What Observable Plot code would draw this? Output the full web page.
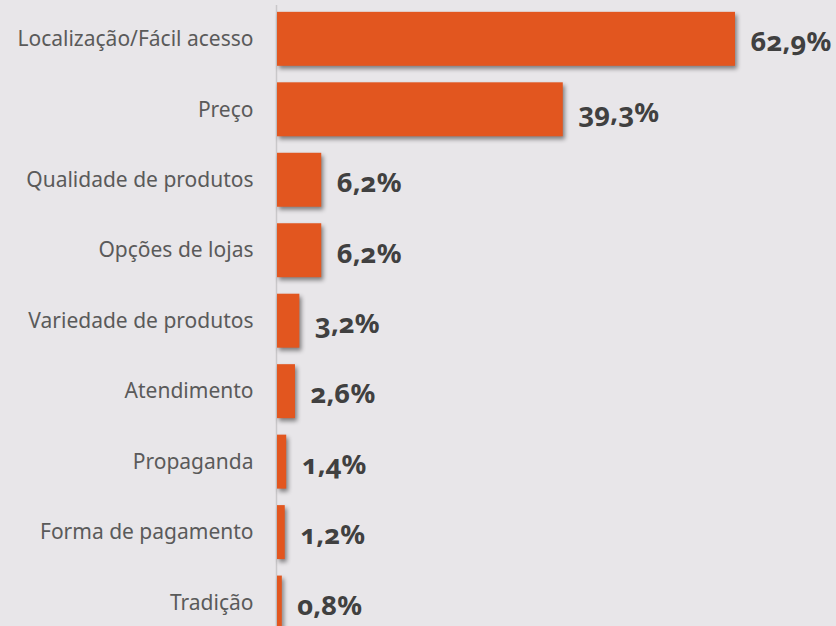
<!DOCTYPE html>
<html>
<head>
<meta charset="utf-8">
<script src="https://cdn.jsdelivr.net/npm/d3@7"></script>
<script src="https://cdn.jsdelivr.net/npm/@observablehq/plot@0.6"></script>
<style>
  html, body { margin: 0; padding: 0; background: #e8e6e9; overflow: hidden; }
  #chart svg { display: block; }
  #chart g[aria-label="bar"] { filter: drop-shadow(2px 3px 2px rgba(0,0,0,0.45)); }
  #chart g[aria-label="text"] { font-feature-settings: "onum" 1; font-variant-numeric: oldstyle-nums; }
</style>
</head>
<body>
<div id="chart"></div>
<script>
const categories = [
  "Localização/Fácil acesso",
  "Preço",
  "Qualidade de produtos",
  "Opções de lojas",
  "Variedade de produtos",
  "Atendimento",
  "Propaganda",
  "Forma de pagamento",
  "Tradição"
];
const values = [62.9, 39.3, 6.2, 6.2, 3.2, 2.6, 1.4, 1.2, 0.8];
const valueLabels = ["62,9%", "39,3%", "6,2%", "6,2%", "3,2%", "2,6%", "1,4%", "1,2%", "0,8%"];

const data = categories.map((c, i) => ({category: c, value: values[i], label: valueLabels[i]}));

const chart = Plot.plot({
  width: 836,
  height: 640,
  marginLeft: 276,
  marginTop: 5,
  marginRight: 0,
  marginBottom: 0,
  style: {background: "#e8e6e9", fontFamily: "'Noto Sans', sans-serif", overflow: "visible"},
  x: {domain: [0, 62.9], range: [276, 735], axis: null},
  y: {domain: categories, range: [3.6, 637.8], paddingInner: 0.234, paddingOuter: 0.117, round: false, label: null},
  marks: [
    Plot.ruleX([0], {stroke: "#c9c8ca", strokeWidth: 1.5}),
    Plot.barX(data, {y: "category", x1: 0, x2: "value", fill: "#e2561f", insetLeft: 1}),
    Plot.axisY({tickSize: 0, tickPadding: 23, fontSize: 21, color: "#5a5a5a", fill: "#5a5a5a", label: null}),
    Plot.text(data, {x: "value", y: "category", text: "label", dx: 15, dy: 3, textAnchor: "start",
      fontSize: 27.5, fontWeight: "bold", fill: "#404040"})
  ]
});
document.getElementById("chart").appendChild(chart);
</script>
</body>
</html>
